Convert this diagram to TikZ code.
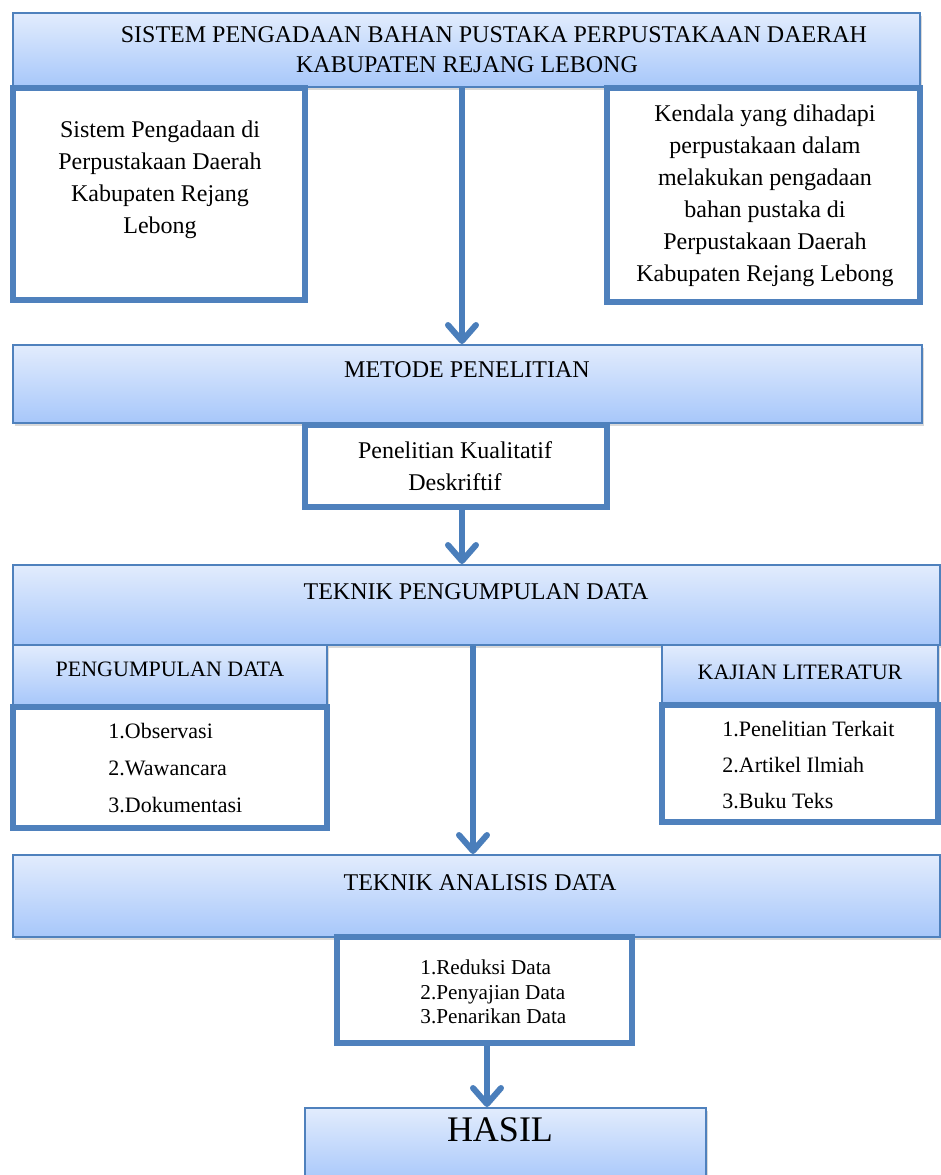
\documentclass[tikz,border=0pt]{standalone}
\usepackage{fontspec}
\setmainfont{Liberation Serif}
\usetikzlibrary{arrows.meta, shadows}
\definecolor{boxblue}{RGB}{79,129,189}
\definecolor{gradtop}{RGB}{226,236,253}
\definecolor{gradbot}{RGB}{167,199,250}
\definecolor{arrowblue}{RGB}{74,126,187}

\begin{document}
\begin{tikzpicture}[x=0.5pt, y=-0.5pt]
  \tikzstyle{band}=[rectangle, draw=boxblue, line width=1pt, top color=gradtop, bottom color=gradbot, inner sep=0pt, drop shadow={shadow xshift=1pt, shadow yshift=-1.5pt, opacity=0.3}]
  \tikzstyle{panel}=[rectangle, draw=boxblue, line width=2.8pt, fill=white, inner sep=0pt, drop shadow={shadow xshift=1pt, shadow yshift=-1.5pt, opacity=0.2}]
  \tikzstyle{txt}=[align=center, inner sep=0pt, font=\fontsize{12}{16}\selectfont]
  \tikzstyle{items}=[align=left, anchor=west, inner sep=0pt, font=\fontsize{11}{18.5}\selectfont]
  \tikzstyle{flow}=[draw=arrowblue, line width=3pt, -{Straight Barb[length=8pt, width=14pt, round]}]
  \useasboundingbox (0,0) rectangle (941,1175);
  % boxes
  \node[band, minimum width=453.5pt, minimum height=37pt] (hdr) at (466.5,50) {};
  \node[panel, minimum width=146pt, minimum height=106pt] (sis) at (159,194) {};
  \node[panel, minimum width=156.5pt, minimum height=107pt] (ken) at (763.5,195) {};
  \node[band, minimum width=454.5pt, minimum height=39pt] (metode) at (467.5,384) {};
  \node[panel, minimum width=151pt, minimum height=41pt] (pk) at (456,466) {};
  \node[band, minimum width=463.5pt, minimum height=40pt] (tpd) at (476.5,605) {};
  \node[band, minimum width=157pt, minimum height=30pt] (pd) at (170,675) {};
  \node[panel, minimum width=157pt, minimum height=60.5pt] (obs) at (170,767.5) {};
  \node[band, minimum width=138pt, minimum height=29pt] (kl) at (800,674) {};
  \node[panel, minimum width=138pt, minimum height=58.5pt] (lit) at (800,763.5) {};
  \node[band, minimum width=463.5pt, minimum height=41pt] (tad) at (476.5,896) {};
  \node[panel, minimum width=147.5pt, minimum height=53pt] (ana) at (484.5,990) {};
  \node[band, minimum width=200.5pt, minimum height=37.5pt] (hasil) at (505.5,1145.5) {};
  % texts
  \node[txt, font=\fontsize{12}{15}\selectfont] (hdr-t) at (467,50)
    {\hspace*{27pt}SISTEM PENGADAAN BAHAN PUSTAKA PERPUSTAKAAN DAERAH\\KABUPATEN REJANG LEBONG};
  \node[txt] (sis-t) at (160,180)
    {Sistem Pengadaan di\\Perpustakaan Daerah\\Kabupaten Rejang\\Lebong};
  \node[txt] (ken-t) at (765,196)
    {Kendala yang dihadapi\\perpustakaan dalam\\melakukan pengadaan\\bahan pustaka di\\Perpustakaan Daerah\\Kabupaten Rejang Lebong};
  \node[txt] (metode-t) at (467,370) {METODE PENELITIAN};
  \node[txt] (pk-t) at (455,466) {Penelitian Kualitatif\\Deskriftif};
  \node[txt] (tpd-t) at (476,592) {TEKNIK PENGUMPULAN DATA};
  \node[txt, font=\fontsize{11}{14}\selectfont] (pd-t) at (170,669) {PENGUMPULAN DATA};
  \node[items] (obs-t) at (108,768) {1.Observasi\\2.Wawancara\\3.Dokumentasi};
  \node[txt, font=\fontsize{11}{14}\selectfont] (kl-t) at (800,672) {KAJIAN LITERATUR};
  \node[items, font=\fontsize{11}{18}\selectfont] (lit-t) at (722,765) {1.Penelitian Terkait\\2.Artikel Ilmiah\\3.Buku Teks};
  \node[txt] (tad-t) at (480,883) {TEKNIK ANALISIS DATA};
  \node[items, font=\fontsize{10.6}{12.25}\selectfont] (ana-t) at (420,992) {1.Reduksi Data\\2.Penyajian Data\\3.Penarikan Data};
  \node[txt, font=\fontsize{18}{22}\selectfont] (hasil-t) at (500,1130) {HASIL};
  % arrows
  \draw[flow] ([xshift=-2.25pt]hdr.south) -- ([xshift=-2.25pt]hdr.south |- metode.north);
  \draw[flow] ([xshift=3pt]pk.south) -- ([xshift=3pt]pk.south |- tpd.north);
  \draw[flow] ([xshift=-1.75pt]tpd.south) -- ([xshift=-1.75pt]tpd.south |- tad.north);
  \draw[flow] ([xshift=1.25pt]ana.south) -- ([xshift=1.25pt]ana.south |- hasil.north);
\end{tikzpicture}
\end{document}
